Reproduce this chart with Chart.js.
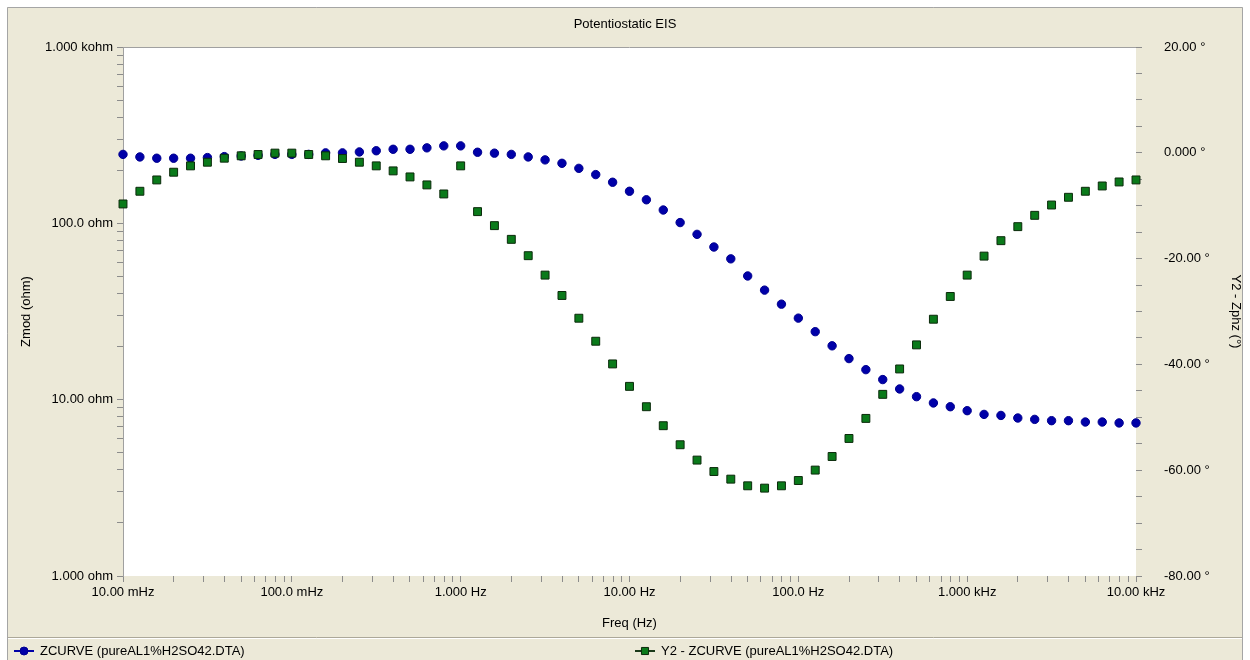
<!DOCTYPE html>
<html>
<head>
<meta charset="utf-8">
<title>Potentiostatic EIS</title>
<script src="https://cdn.jsdelivr.net/npm/chart.js@4.4.0/dist/chart.umd.min.js"></script>
<style>
  html, body { margin: 0; padding: 0; background: #fff; }
</style>
</head>
<body>
<canvas id="eisChart" width="1250" height="660"></canvas>
<script>
// Frequency sweep (Hz), 10 points per decade
const freqHz = [
  0.01, 0.01259, 0.01585, 0.01995, 0.02512, 0.03162, 0.03981, 0.05012, 0.0631, 0.07943,
  0.1, 0.1259, 0.1585, 0.1995, 0.2512, 0.3162, 0.3981, 0.5012, 0.631, 0.7943,
  1, 1.259, 1.585, 1.995, 2.512, 3.162, 3.981, 5.012, 6.31, 7.943,
  10, 12.59, 15.85, 19.95, 25.12, 31.62, 39.81, 50.12, 63.1, 79.43,
  100, 125.9, 158.5, 199.5, 251.2, 316.2, 398.1, 501.2, 631, 794.3,
  1000, 1259, 1585, 1995, 2512, 3162, 3981, 5012, 6310, 7943,
  10000
];

// |Z| in ohm (left axis)
const zmodOhm = [
  246, 238, 234, 234, 234, 236, 239, 241, 243, 246,
  246, 246, 251, 251, 254, 258, 263, 263, 268, 275,
  275, 253, 250, 246, 238, 229, 219, 205, 189, 171,
  152, 136, 119, 101, 86.6, 73.4, 62.9, 50.3, 41.8, 34.8,
  29.0, 24.3, 20.2, 17.1, 14.8, 13.0, 11.5, 10.4, 9.58, 9.12,
  8.66, 8.25, 8.14, 7.87, 7.73, 7.60, 7.60, 7.47, 7.47, 7.38,
  7.38
];

// phase in degrees (right axis)
const zphzDeg = [
  -9.67, -7.27, -5.13, -3.67, -2.47, -1.78, -1.02, -0.57, -0.32, -0.06,
  -0.06, -0.32, -0.57, -1.08, -1.78, -2.47, -3.42, -4.56, -6.07, -7.78,
  -2.47, -11.12, -13.77, -16.36, -19.45, -23.12, -26.97, -31.27, -35.62, -39.91,
  -44.15, -48.0, -51.59, -55.19, -58.09, -60.25, -61.69, -62.95, -63.39, -62.95,
  -61.95, -59.98, -57.41, -54.0, -50.21, -45.66, -40.86, -36.31, -31.46, -27.16,
  -23.12, -19.53, -16.61, -13.96, -11.82, -9.87, -8.41, -7.27, -6.27, -5.51,
  -5.13
];

// tick labels
const xMajorValues = [0.01, 0.1, 1, 10, 100, 1000, 10000];
const xMajorLabels = ['10.00 mHz', '100.0 mHz', '1.000 Hz', '10.00 Hz', '100.0 Hz', '1.000 kHz', '10.00 kHz'];
const yMajorValues = [1, 10, 100, 1000];
const yMajorLabels = ['1.000 ohm', '10.00 ohm', '100.0 ohm', '1.000 kohm'];
const y2MajorValues = [-80, -60, -40, -20, 0, 20];
const y2MajorLabels = ['-80.00 °', '-60.00 °', '-40.00 °', '-20.00 °', '0.000 °', '20.00 °'];

const FONT = 'Liberation Sans';
const FONT_SIZE = 13;
const BEIGE = '#ECE9D8';
const TICK_GRAY = '#8c8c8c';

// 1..9 x 10^n tick marks for the log axes
function logTicks(values) {
  const ticks = [];
  for (let i = 0; i < values.length - 1; i++) {
    for (let m = 1; m <= 9; m++) ticks.push({ value: values[i] * m });
  }
  ticks.push({ value: values[values.length - 1] });
  return ticks;
}

function majorLabel(value, values, labels) {
  for (let i = 0; i < values.length; i++) {
    if (Math.abs(Math.log10(value) - Math.log10(values[i])) < 1e-6) return labels[i];
  }
  return '';
}

const framePlugin = {
  id: 'frame',
  beforeDraw(chart) {
    const { ctx, chartArea: ca, width, height } = chart;
    ctx.save();
    ctx.fillStyle = '#fff';
    ctx.fillRect(0, 0, width, height);
    ctx.fillStyle = BEIGE;
    ctx.fillRect(7, 7, 1236, height - 7);
    ctx.strokeStyle = '#a5a5a5';
    ctx.lineWidth = 1;
    ctx.beginPath();
    ctx.moveTo(7.5, height); ctx.lineTo(7.5, 7.5); ctx.lineTo(1242.5, 7.5); ctx.lineTo(1242.5, height);
    ctx.stroke();
    // plot area
    ctx.fillStyle = '#fff';
    ctx.fillRect(ca.left, ca.top, ca.right - ca.left, ca.bottom - ca.top);
    ctx.strokeStyle = '#a0a0a0';
    ctx.beginPath();
    ctx.moveTo(ca.left, ca.top + 0.5); ctx.lineTo(ca.right, ca.top + 0.5);
    ctx.stroke();
    // legend separator
    ctx.strokeStyle = '#aca899';
    ctx.beginPath();
    ctx.moveTo(8, 637.5); ctx.lineTo(1242, 637.5);
    ctx.stroke();
    ctx.strokeStyle = '#fff';
    ctx.beginPath();
    ctx.moveTo(8, 638.5); ctx.lineTo(1242, 638.5);
    ctx.stroke();
    ctx.restore();
  },
  afterDraw(chart) {
    const { ctx } = chart;
    const spots = [14, 635];
    ctx.save();
    chart.data.datasets.forEach((ds, i) => {
      const x0 = spots[i];
      const y = 651;
      ctx.strokeStyle = ds.legendLine;
      ctx.lineWidth = 2;
      ctx.beginPath();
      ctx.moveTo(x0, y); ctx.lineTo(x0 + 20, y);
      ctx.stroke();
      ctx.fillStyle = ds.backgroundColor;
      ctx.strokeStyle = ds.borderColor;
      ctx.lineWidth = 1;
      Chart.helpers.drawPoint(ctx, {
        pointStyle: ds.pointStyle,
        radius: ds.pointStyle === 'rect' ? 5 : 4,
        borderWidth: 1,
        rotation: 0
      }, x0 + 10, y);
      ctx.fillStyle = '#000';
      ctx.font = FONT_SIZE + 'px "' + FONT + '"';
      ctx.textBaseline = 'middle';
      ctx.textAlign = 'left';
      ctx.fillText(ds.label, x0 + 26, y);
    });
    ctx.restore();
  }
};

const ctx = document.getElementById('eisChart');

new Chart(ctx, {
  type: 'scatter',
  data: {
    datasets: [
      {
        label: 'ZCURVE (pureAL1%H2SO42.DTA)',
        data: freqHz.map((f, i) => ({ x: f, y: zmodOhm[i] })),
        yAxisID: 'y',
        order: 2,
        clip: false,
        pointStyle: 'circle',
        pointRadius: 4.2,
        backgroundColor: '#0000a8',
        borderColor: '#000090',
        borderWidth: 1,
        legendLine: '#0000a8'
      },
      {
        label: 'Y2 - ZCURVE (pureAL1%H2SO42.DTA)',
        data: freqHz.map((f, i) => ({ x: f, y: zphzDeg[i] })),
        yAxisID: 'y2',
        order: 1,
        clip: false,
        pointStyle: 'rect',
        pointRadius: 5.6,
        backgroundColor: '#0a7a1a',
        borderColor: '#0b2a0b',
        borderWidth: 1,
        legendLine: '#1a3a1a'
      }
    ]
  },
  options: {
    responsive: false,
    animation: false,
    layout: { padding: 0 },
    plugins: {
      legend: { display: false },
      tooltip: { enabled: false },
      title: {
        display: true,
        text: 'Potentiostatic EIS',
        color: '#000',
        font: { family: FONT, size: FONT_SIZE, weight: 'normal' },
        padding: { top: 17, bottom: 14.4 }
      }
    },
    scales: {
      x: {
        type: 'logarithmic',
        position: 'bottom',
        min: 0.01,
        max: 10000,
        afterBuildTicks: scale => { scale.ticks = logTicks(xMajorValues); },
        afterFit: scale => { scale.height = 84; },
        grid: { drawOnChartArea: false, drawTicks: true, tickLength: 6, color: TICK_GRAY },
        border: { display: false },
        ticks: {
          autoSkip: false,
          maxRotation: 0,
          padding: 3,
          color: '#000',
          font: { family: FONT, size: FONT_SIZE },
          callback: value => majorLabel(value, xMajorValues, xMajorLabels)
        },
        title: {
          display: true,
          text: 'Freq (Hz)',
          color: '#000',
          font: { family: FONT, size: FONT_SIZE },
          padding: { top: 0, bottom: 29 }
        }
      },
      y: {
        type: 'logarithmic',
        position: 'left',
        min: 1,
        max: 1000,
        afterBuildTicks: scale => { scale.ticks = logTicks(yMajorValues); },
        afterFit: scale => { scale.width = 123; },
        grid: { drawOnChartArea: false, drawTicks: true, tickLength: 6, color: TICK_GRAY },
        border: { display: true, color: '#a0a0a0' },
        ticks: {
          autoSkip: false,
          padding: 4,
          color: '#000',
          font: { family: FONT, size: FONT_SIZE },
          callback: value => majorLabel(value, yMajorValues, yMajorLabels)
        },
        title: {
          display: true,
          text: 'Zmod (ohm)',
          color: '#000',
          font: { family: FONT, size: FONT_SIZE },
          padding: { top: 19, bottom: 0 }
        }
      },
      y2: {
        type: 'linear',
        position: 'right',
        min: -80,
        max: 20,
        afterFit: scale => { scale.width = 114; },
        grid: { drawOnChartArea: false, drawTicks: true, tickLength: 6, color: TICK_GRAY },
        border: { display: false },
        ticks: {
          stepSize: 5,
          autoSkip: false,
          padding: 22,
          color: '#000',
          font: { family: FONT, size: FONT_SIZE },
          callback: value => {
            const i = y2MajorValues.indexOf(value);
            return i >= 0 ? y2MajorLabels[i] : '';
          }
        },
        title: {
          display: true,
          text: 'Y2 - Zphz (°)',
          color: '#000',
          font: { family: FONT, size: FONT_SIZE },
          padding: { top: 7, bottom: 0 }
        }
      }
    }
  },
  plugins: [framePlugin]
});
</script>
</body>
</html>
